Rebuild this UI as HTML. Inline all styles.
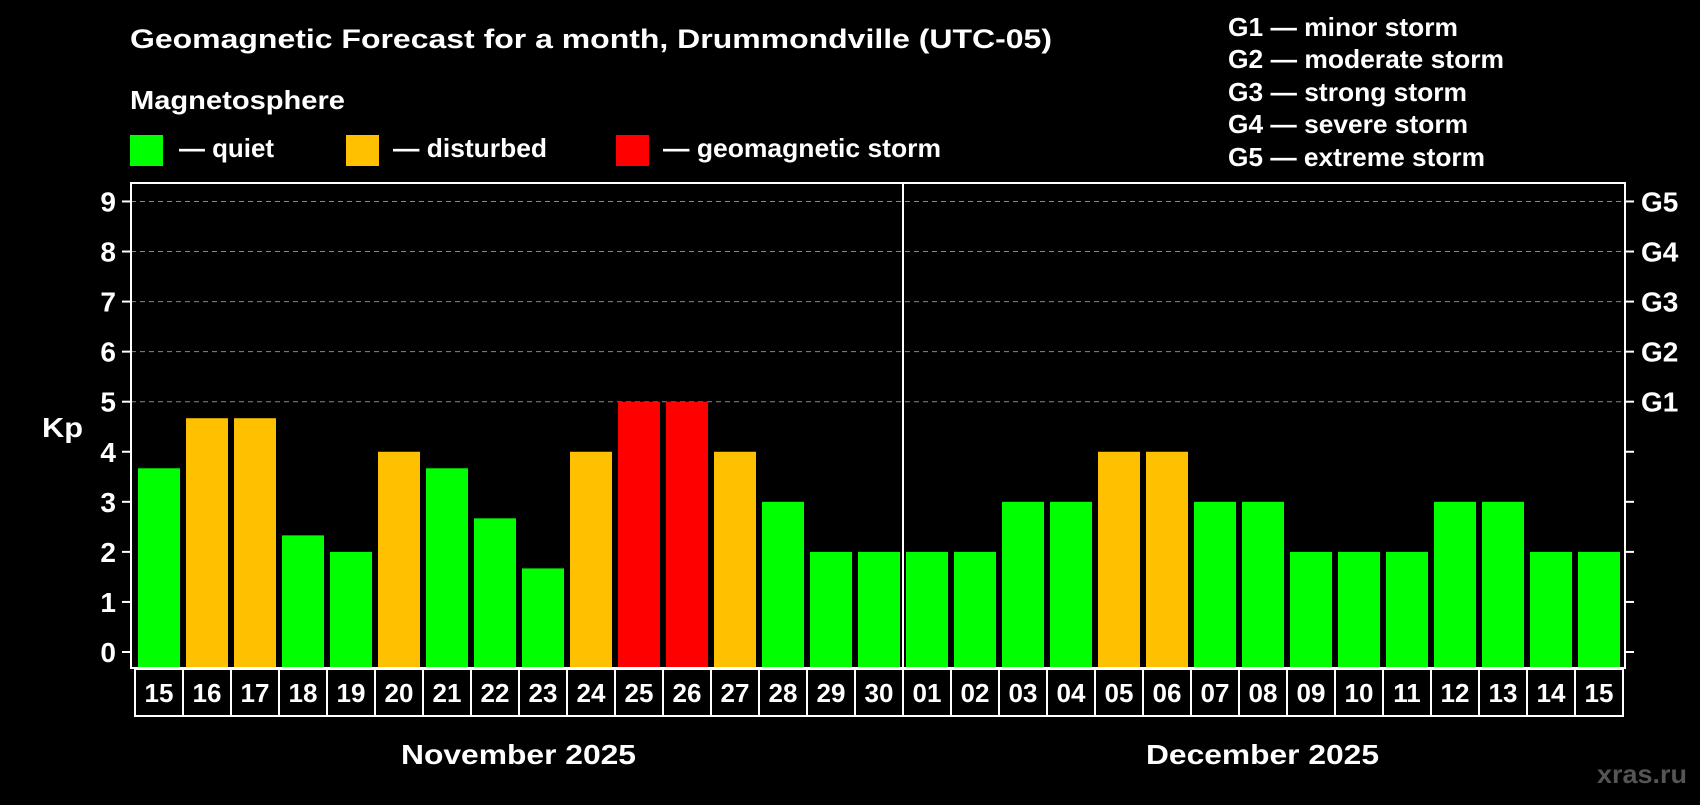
<!DOCTYPE html>
<html><head><meta charset="utf-8"><style>
body{margin:0;background:#000;}
svg text{font-family:"Liberation Sans",Arial,sans-serif;font-weight:bold;fill:#fff;}
</style></head><body>
<svg id="c" width="1700" height="800" viewBox="0 0 1700 800">
<rect width="1700" height="800" fill="#000"/>
<text x="130" y="48" font-size="27" textLength="922" lengthAdjust="spacingAndGlyphs">Geomagnetic Forecast for a month, Drummondville (UTC-05)</text>
<text x="130" y="109" font-size="26" textLength="215" lengthAdjust="spacingAndGlyphs">Magnetosphere</text>
<g>
<rect x="130" y="135" width="33" height="31" fill="#00ff00"/>
<text x="179" y="157" font-size="26" textLength="95" lengthAdjust="spacingAndGlyphs">— quiet</text>
<rect x="346" y="135" width="33" height="31" fill="#ffc000"/>
<text x="393" y="157" font-size="26" textLength="154" lengthAdjust="spacingAndGlyphs">— disturbed</text>
<rect x="616" y="135" width="33" height="31" fill="#ff0000"/>
<text x="663" y="157" font-size="26" textLength="278" lengthAdjust="spacingAndGlyphs">— geomagnetic storm</text>
</g>
<g>
<text x="1228" y="36" font-size="26" textLength="230" lengthAdjust="spacingAndGlyphs">G1 — minor storm</text>
<text x="1228" y="68" font-size="26" textLength="276" lengthAdjust="spacingAndGlyphs">G2 — moderate storm</text>
<text x="1228" y="101" font-size="26" textLength="239" lengthAdjust="spacingAndGlyphs">G3 — strong storm</text>
<text x="1228" y="133" font-size="26" textLength="240" lengthAdjust="spacingAndGlyphs">G4 — severe storm</text>
<text x="1228" y="166" font-size="26" textLength="257" lengthAdjust="spacingAndGlyphs">G5 — extreme storm</text>
</g>
<text x="42" y="437" font-size="28" textLength="41" lengthAdjust="spacingAndGlyphs">Kp</text>
<text x="401" y="764" font-size="28" textLength="235" lengthAdjust="spacingAndGlyphs">November 2025</text>
<text x="1146" y="764" font-size="28" textLength="233" lengthAdjust="spacingAndGlyphs">December 2025</text>
<text x="1597" y="783" font-size="26" textLength="90" lengthAdjust="spacingAndGlyphs" style="fill:#555">xras.ru</text>
<g id="plot"></g>
</svg>
<script>
const days = ["15","16","17","18","19","20","21","22","23","24","25","26","27","28","29","30","01","02","03","04","05","06","07","08","09","10","11","12","13","14","15"];
const kpValues = [3.67,4.67,4.67,2.33,2,4,3.67,2.67,1.67,4,5,5,4,3,2,2,2,2,3,3,4,4,3,3,2,2,2,3,3,2,2];
const yTicks = [0,1,2,3,4,5,6,7,8,9];
const gLabels = ["G1","G2","G3","G4","G5"];
const gLevels = [5,6,7,8,9];
const ns="http://www.w3.org/2000/svg";
const g=document.getElementById('plot');
const L=131,R=1625,T=183,B=668,x0=135,slot=48;
const y=v=>652-v*50.06;
const xs=i=>x0+i*slot;
function mk(t,a){const e=document.createElementNS(ns,t);for(const k in a)e.setAttribute(k,a[k]);g.appendChild(e);return e;}
gLevels.forEach(v=>{const e=mk('line',{x1:L,x2:R,y1:y(v),y2:y(v),stroke:'#888','stroke-dasharray':'5,4','stroke-width':1});

});
kpValues.forEach((v,i)=>{const c=v>=5?'#ff0000':(v>=4?'#ffc000':'#00ff00');
const r=mk('rect',{x:xs(i)+3,y:y(v),width:42,height:B-y(v),fill:c});

});
const fr=mk('rect',{x:L,y:T,width:R-L,height:B-T,fill:'none',stroke:'#fff','stroke-width':2});


const dv=mk('line',{x1:xs(16),x2:xs(16),y1:T,y2:B,stroke:'#fff','stroke-width':2});


yTicks.forEach(v=>{const t=mk('line',{x1:122,x2:L,y1:y(v),y2:y(v),stroke:'#fff','stroke-width':2});


const t2=mk('line',{x1:R,x2:1634,y1:y(v),y2:y(v),stroke:'#fff','stroke-width':2});


const tx=mk('text',{x:116,y:y(v)+10,'font-size':28,'text-anchor':'end'});tx.textContent=v;

});
gLabels.forEach((s,i)=>{const tx=mk('text',{x:1641,y:y(gLevels[i])+10,'font-size':28});tx.textContent=s;

});
days.forEach((d,i)=>{const b=mk('rect',{x:xs(i),y:669,width:slot,height:47,fill:'#000',stroke:'#fff','stroke-width':2});


const tx=mk('text',{x:xs(i)+slot/2,y:702,'font-size':26,'text-anchor':'middle'});tx.textContent=d;

});
</script>
</body></html>
